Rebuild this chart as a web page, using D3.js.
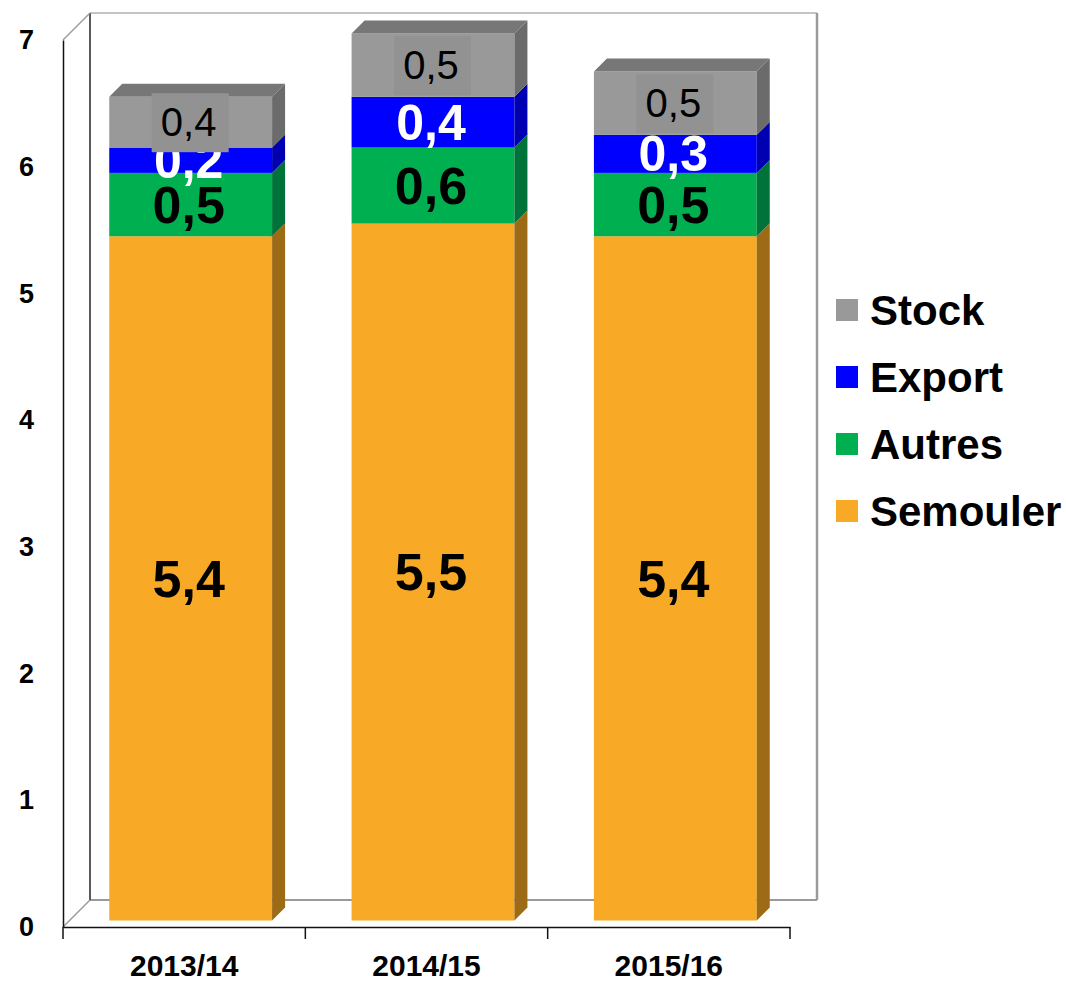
<!DOCTYPE html>
<html>
<head>
<meta charset="utf-8">
<script src="https://cdn.jsdelivr.net/npm/d3@7"></script>
<style>
  html, body { margin: 0; padding: 0; background: #fff; }
  svg { display: block; font-family: Arial, "Liberation Sans", sans-serif; }
</style>
</head>
<body>
<svg id="chart" width="1066" height="984"></svg>
<script>
// Campaigns and the uses of the harvest (values per campaign)
const categories = ["2013/14", "2014/15", "2015/16"];
const semoulerie = [5.4, 5.5, 5.4];
const autres = [0.5, 0.6, 0.5];
const exportVals = [0.2, 0.4, 0.3];
const stock = [0.4, 0.5, 0.5];
const yTicks = [0, 1, 2, 3, 4, 5, 6, 7];

const seriesNames = ["Semouler", "Autres", "Export", "Stock"];
const seriesKeys = ["semoulerie", "autres", "export", "stock"];

const rows = categories.map((c, i) => ({
  cat: c,
  semoulerie: semoulerie[i],
  autres: autres[i],
  export: exportVals[i],
  stock: stock[i]
}));

const style = {
  semoulerie: { front: "#F8AA26", side: "#9D6A16", top: "#C98A1E", label: "#000", weight: "bold", size: 52 },
  autres:     { front: "#00B050", side: "#00733A", top: "#00843F", label: "#000", weight: "bold", size: 52 },
  export:     { front: "#0000FF", side: "#0000B2", top: "#0000C8", label: "#fff", weight: "bold", size: 50 },
  stock:      { front: "#999999", side: "#6B6B6B", top: "#777777", label: "#000", weight: "normal", size: 40 }
};

const svg = d3.select("#chart");

// Front plane of the plot and the 3D depth offsets
const x0 = 63, x1 = 790, yBottom = 927, yTop = 40;
const wallDepth = 27;      // back wall offset (right/up)
const barFront = 6.5;      // bar front face offset from the front plane
const barDepth = 13;       // bar thickness in depth

const x = d3.scaleBand().domain(categories).range([x0, x1]).padding(0);
const y = d3.scaleLinear().domain([0, 7]).range([yBottom, yTop]);
const barW = x.bandwidth() * 0.672;

// ---- walls ----
const walls = svg.append("g");
const bx0 = x0 + wallDepth, bx1 = x1 + wallDepth;
const byTop = y(7) - wallDepth, byBot = y(0) - wallDepth;
walls.append("rect").attr("x", bx0).attr("y", byTop).attr("width", bx1 - bx0).attr("height", byBot - byTop).attr("fill", "#fff");
walls.append("line").attr("x1", bx0).attr("y1", byTop).attr("x2", bx1).attr("y2", byTop)
  .attr("stroke", "#c4c4c4").attr("stroke-width", 2);
walls.append("line").attr("x1", bx1).attr("y1", byTop).attr("x2", bx1).attr("y2", byBot)
  .attr("stroke", "#9a9a9a").attr("stroke-width", 2.5);
walls.append("line").attr("x1", bx0).attr("y1", byBot).attr("x2", bx1).attr("y2", byBot)
  .attr("stroke", "#9a9a9a").attr("stroke-width", 2);
walls.append("line").attr("x1", bx0).attr("y1", byTop).attr("x2", bx0).attr("y2", byBot)
  .attr("stroke", "#222").attr("stroke-width", 1.5);
walls.append("line").attr("x1", x0).attr("y1", y(7)).attr("x2", bx0).attr("y2", byTop)
  .attr("stroke", "#9a9a9a").attr("stroke-width", 1.5);
walls.append("line").attr("x1", x0).attr("y1", y(0)).attr("x2", bx0).attr("y2", byBot)
  .attr("stroke", "#9a9a9a").attr("stroke-width", 1.5);

// ---- stacked 3D bars ----
const stacked = d3.stack().keys(seriesKeys)(rows);
const barsG = svg.append("g");

stacked.forEach((layer, li) => {
  const key = layer.key;
  const st = style[key];
  layer.forEach((d, i) => {
    const cx = x(d.data.cat) + x.bandwidth() / 2 + barFront;
    const left = cx - barW / 2, right = cx + barW / 2;
    const yt = y(d[1]) - barFront, yb = y(d[0]) - barFront;
    const g = barsG.append("g");
    // front face
    g.append("rect").attr("x", left).attr("y", yt).attr("width", right - left).attr("height", yb - yt)
      .attr("fill", st.front);
    // right side face
    g.append("path")
      .attr("d", `M${right},${yb}L${right + barDepth},${yb - barDepth}L${right + barDepth},${yt - barDepth}L${right},${yt}Z`)
      .attr("fill", st.side);
    // top face on the highest segment
    if (li === stacked.length - 1) {
      g.append("path")
        .attr("d", `M${left},${yt}L${left + barDepth},${yt - barDepth}L${right + barDepth},${yt - barDepth}L${right},${yt}Z`)
        .attr("fill", st.top);
    }
  });
});

// ---- data labels ----
const fmt = v => d3.format(".1f")(v).replace(".", ",");
const labelsG = svg.append("g");
stacked.forEach(layer => {
  const key = layer.key;
  const st = style[key];
  layer.forEach(d => {
    const cx = x(d.data.cat) + x.bandwidth() / 2 + barFront;
    const mid = (y(d[0]) + y(d[1])) / 2 - barFront;
    if (key === "stock") {
      labelsG.append("rect")
        .attr("x", cx - 39).attr("y", mid - 29).attr("width", 77).attr("height", 59)
        .attr("fill", "#929292");
    }
    labelsG.append("text")
      .attr("x", cx - 2).attr("y", mid + st.size * 0.35)
      .attr("text-anchor", "middle")
      .attr("font-size", st.size).attr("font-weight", st.weight)
      .attr("fill", st.label)
      .text(fmt(d[1] - d[0]));
  });
});

// ---- axes ----
const yAxis = d3.axisLeft(y).tickValues(yTicks).tickFormat(d3.format("d"))
  .tickSizeInner(0).tickSizeOuter(0).tickPadding(29);
const yG = svg.append("g").attr("transform", `translate(${x0},0)`).call(yAxis);
yG.select(".domain").attr("stroke", "#111").attr("stroke-width", 1.5);
yG.selectAll("text").attr("font-size", 27).attr("font-weight", "bold").attr("fill", "#000")
  .attr("font-family", "Arial, 'Liberation Sans', sans-serif");

const xAxis = d3.axisBottom(x).tickSizeInner(0).tickSizeOuter(0).tickPadding(28);
const xG = svg.append("g").attr("transform", `translate(0,${yBottom})`).call(xAxis);
xG.select(".domain").attr("stroke", "#111").attr("stroke-width", 1.5);
xG.selectAll("text").attr("font-size", 30).attr("font-weight", "bold").attr("fill", "#000")
  .attr("font-family", "Arial, 'Liberation Sans', sans-serif");
// category boundary ticks
const bounds = categories.map(c => x(c)).concat([x(categories[categories.length - 1]) + x.bandwidth()]);
xG.selectAll(".bound").data(bounds).enter().append("line")
  .attr("x1", d => d).attr("x2", d => d).attr("y1", 0).attr("y2", 12)
  .attr("stroke", "#111").attr("stroke-width", 1.5);

// ---- legend ----
const legendOrder = [3, 2, 1, 0];
const legend = svg.append("g");
legendOrder.forEach((si, k) => {
  const cy = 310 + k * 67;
  legend.append("rect").attr("x", 836).attr("y", cy - 11).attr("width", 22).attr("height", 22)
    .attr("fill", style[seriesKeys[si]].front);
  legend.append("text").attr("x", 870).attr("y", cy + 15)
    .attr("font-size", 42).attr("font-weight", "bold").attr("fill", "#000")
    .text(seriesNames[si]);
});
</script>
</body>
</html>
